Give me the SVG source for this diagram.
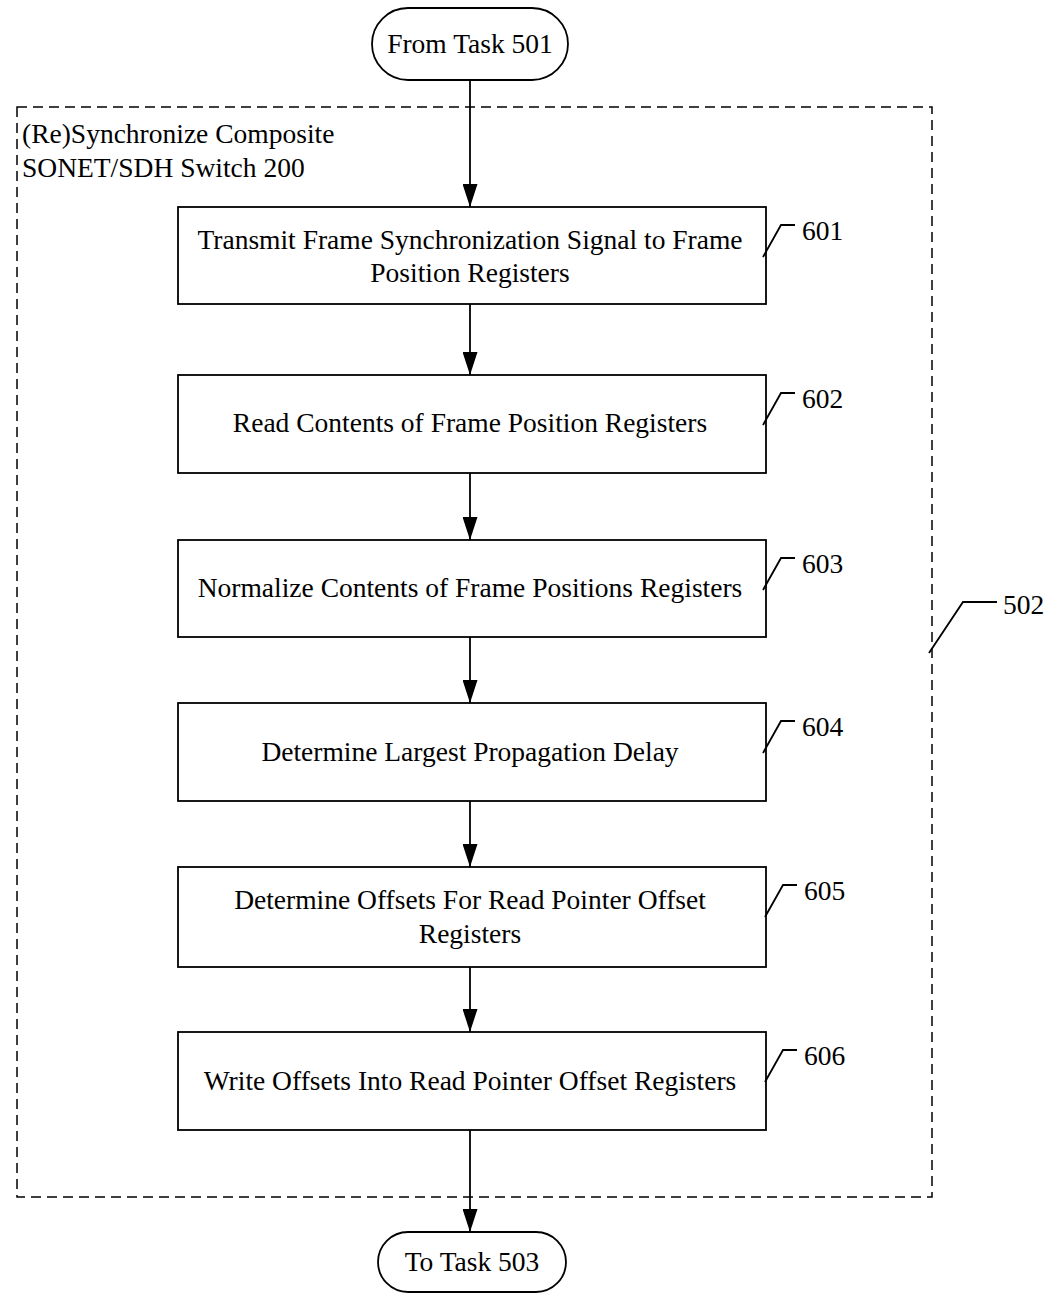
<svg xmlns="http://www.w3.org/2000/svg" width="1053" height="1293" viewBox="0 0 1053 1293">
<defs>
<marker id="ah" markerWidth="23" markerHeight="15" refX="23" refY="7.5" orient="auto" markerUnits="userSpaceOnUse" viewBox="0 0 23 15">
<path d="M0,0 L23,7.5 L0,15 Z" fill="#000"/>
</marker>
</defs>
<style>
text{font-family:"Liberation Serif","Times New Roman",serif;fill:#000;font-size:27.5px}
.c{text-anchor:middle}
.box{fill:#fff;stroke:#000;stroke-width:1.8}
.ld{fill:none;stroke:#000;stroke-width:1.8}
.cn{stroke:#000;stroke-width:1.8;fill:none}
</style>
<rect width="1053" height="1293" fill="#fff"/>
<g id="frame502">
<rect x="17" y="107" width="915" height="1090" fill="none" stroke="#000" stroke-width="1.5" stroke-dasharray="10,6"/>
<text x="22" y="143">(Re)Synchronize Composite</text>
<text x="22" y="177">SONET/SDH Switch 200</text>
<path class="ld" d="M929,653 L963,602 L997,602"/>
<text x="1003" y="614">502</text>
</g>
<g id="connectors">
<line class="cn" x1="470" y1="80" x2="470" y2="207" marker-end="url(#ah)"/>
<line class="cn" x1="470" y1="304" x2="470" y2="375" marker-end="url(#ah)"/>
<line class="cn" x1="470" y1="473" x2="470" y2="540" marker-end="url(#ah)"/>
<line class="cn" x1="470" y1="637" x2="470" y2="703" marker-end="url(#ah)"/>
<line class="cn" x1="470" y1="801" x2="470" y2="867" marker-end="url(#ah)"/>
<line class="cn" x1="470" y1="967" x2="470" y2="1032" marker-end="url(#ah)"/>
<line class="cn" x1="470" y1="1130" x2="470" y2="1232" marker-end="url(#ah)"/>
</g>
<g id="start">
<rect class="box" x="372" y="8" width="196" height="72" rx="36"/>
<text class="c" x="470" y="53">From Task 501</text>
</g>
<g id="n601">
<rect class="box" x="178" y="207" width="588" height="97"/>
<text class="c" x="470" y="249">Transmit Frame Synchronization Signal to Frame</text>
<text class="c" x="470" y="282">Position Registers</text>
<path class="ld" d="M763,257 L781,225 L795,225"/>
<text x="802" y="240">601</text>
</g>
<g id="n602">
<rect class="box" x="178" y="375" width="588" height="98"/>
<text class="c" x="470" y="432">Read Contents of Frame Position Registers</text>
<path class="ld" d="M763,425 L781,393 L795,393"/>
<text x="802" y="408">602</text>
</g>
<g id="n603">
<rect class="box" x="178" y="540" width="588" height="97"/>
<text class="c" x="470" y="597">Normalize Contents of Frame Positions Registers</text>
<path class="ld" d="M763,590 L781,558 L795,558"/>
<text x="802" y="573">603</text>
</g>
<g id="n604">
<rect class="box" x="178" y="703" width="588" height="98"/>
<text class="c" x="470" y="761">Determine Largest Propagation Delay</text>
<path class="ld" d="M763,753 L781,721 L795,721"/>
<text x="802" y="736">604</text>
</g>
<g id="n605">
<rect class="box" x="178" y="867" width="588" height="100"/>
<text class="c" x="470" y="909">Determine Offsets For Read Pointer Offset</text>
<text class="c" x="470" y="943">Registers</text>
<path class="ld" d="M765,917 L783,885 L797,885"/>
<text x="804" y="900">605</text>
</g>
<g id="n606">
<rect class="box" x="178" y="1032" width="588" height="98"/>
<text class="c" x="470" y="1090">Write Offsets Into Read Pointer Offset Registers</text>
<path class="ld" d="M765,1082 L783,1050 L797,1050"/>
<text x="804" y="1065">606</text>
</g>
<g id="end">
<rect class="box" x="378" y="1232" width="188" height="60" rx="30"/>
<text class="c" x="472" y="1271">To Task 503</text>
</g>
</svg>
